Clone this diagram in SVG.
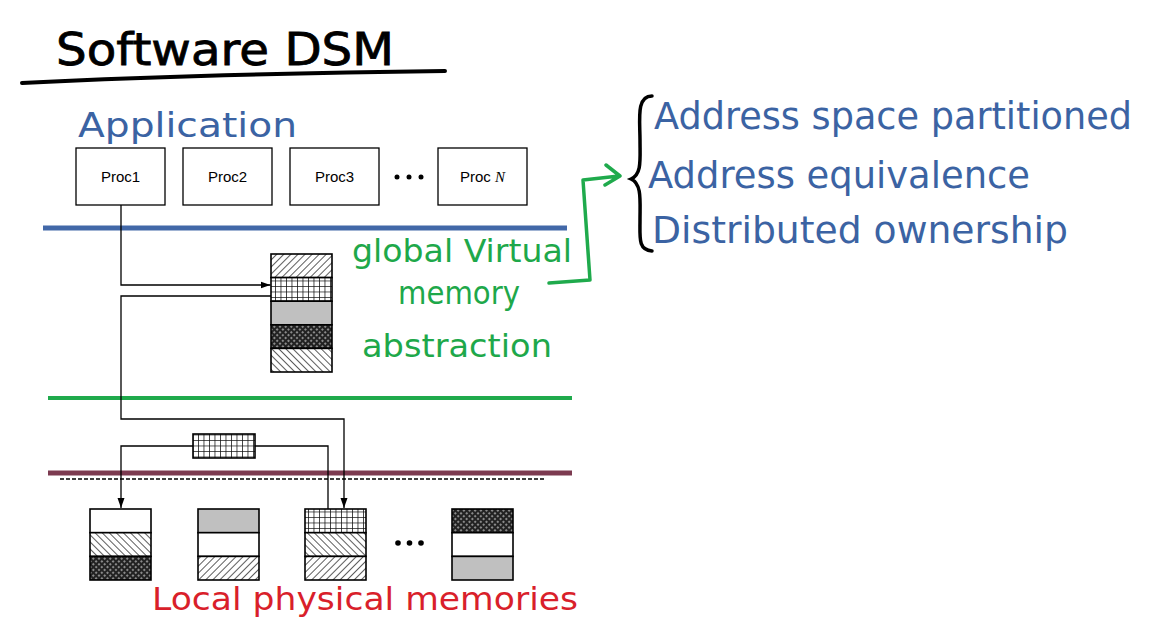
<svg xmlns="http://www.w3.org/2000/svg" width="1161" height="641" viewBox="0 0 1161 641">
<style>
.box{fill:#fff;stroke:#000;stroke-width:1.3}
.seg{stroke:#000;stroke-width:1.6}
.ptxt{font-family:"Liberation Sans",Arial,sans-serif;font-size:15px;fill:#000;text-anchor:middle}
.hand{font-family:"DejaVu Sans","Liberation Sans",sans-serif}
.blue{fill:#3b63a3}
.green{fill:#1ea84a}
.red{fill:#d91f2b}
.conn{fill:none;stroke:#000;stroke-width:1.3}
</style>
<defs>
<pattern id="hatchF" width="5" height="5" patternUnits="userSpaceOnUse" patternTransform="rotate(45)">
<rect width="5" height="5" fill="#fff"/><line x1="0" y1="0" x2="0" y2="5" stroke="#333" stroke-width="1.6"/>
</pattern>
<pattern id="hatchB" width="5" height="5" patternUnits="userSpaceOnUse" patternTransform="rotate(-45)">
<rect width="5" height="5" fill="#fff"/><line x1="0" y1="0" x2="0" y2="5" stroke="#333" stroke-width="1.6"/>
</pattern>
<pattern id="grid" width="5.5" height="5.5" patternUnits="userSpaceOnUse">
<rect width="5.5" height="5.5" fill="#fff"/><path d="M0 0H5.5M0 0V5.5" stroke="#111" stroke-width="1.5"/>
</pattern>
<pattern id="dark" width="4" height="4" patternUnits="userSpaceOnUse" patternTransform="rotate(45)">
<rect width="4" height="4" fill="#222"/><rect x="0" y="0" width="2" height="2" fill="#8a8a8a"/>
</pattern>
<marker id="ah" viewBox="0 0 10 10" refX="10" refY="5" markerWidth="10" markerHeight="10" markerUnits="userSpaceOnUse" orient="auto">
<path d="M0 1.5L10 5L0 8.5z" fill="#000"/>
</marker>
</defs>

<g id="title">
<text x="56" y="65" class="hand" font-size="44" fill="#000" stroke="#000" stroke-width="0.8" textLength="338" lengthAdjust="spacingAndGlyphs">Software DSM</text>
<path d="M22 83 Q200 74 445 71" fill="none" stroke="#000" stroke-width="4" stroke-linecap="round"/>
</g>

<g id="application-label">
<text x="78" y="137" class="hand blue" font-size="34" textLength="219" lengthAdjust="spacingAndGlyphs">Application</text>
</g>

<g id="proc1"><rect class="box" x="76" y="148" width="89" height="57"/><text class="ptxt" x="120.5" y="182">Proc1</text></g>
<g id="proc2"><rect class="box" x="183" y="148" width="89" height="57"/><text class="ptxt" x="227.5" y="182">Proc2</text></g>
<g id="proc3"><rect class="box" x="290" y="148" width="89" height="57"/><text class="ptxt" x="334.5" y="182">Proc3</text></g>
<g id="proc-dots" fill="#000"><circle cx="397" cy="177" r="2.5"/><circle cx="409" cy="177" r="2.5"/><circle cx="421" cy="177" r="2.5"/></g>
<g id="procN"><rect class="box" x="438" y="148" width="89" height="57"/><text class="ptxt" x="482.5" y="182">Proc <tspan font-family="'Liberation Serif',serif" font-style="italic">N</tspan></text></g>

<g id="layer-lines">
<line x1="43" y1="228" x2="567" y2="228" stroke="#4268a8" stroke-width="5"/>
<line x1="48" y1="398" x2="572" y2="398" stroke="#1faa4c" stroke-width="4"/>
<line x1="48" y1="473" x2="572" y2="473" stroke="#7c3a50" stroke-width="5"/>
<line x1="60" y1="479" x2="545" y2="479" stroke="#000" stroke-width="1.5" stroke-dasharray="4 2"/>
</g>

<g id="virtual-memory">
<rect class="seg" x="271" y="254" width="61" height="23.6" fill="url(#hatchF)"/>
<rect class="seg" x="271" y="277.6" width="61" height="23.6" fill="url(#grid)"/>
<rect class="seg" x="271" y="301.2" width="61" height="23.6" fill="#c0c0c0"/>
<rect class="seg" x="271" y="324.8" width="61" height="23.6" fill="url(#dark)"/>
<rect class="seg" x="271" y="348.4" width="61" height="23.6" fill="url(#hatchB)"/>
</g>

<g id="transfer-page">
<rect class="seg" x="193" y="434" width="62" height="24" fill="url(#grid)"/>
</g>

<g id="mem1">
<rect class="seg" x="90" y="509" width="61" height="23.7" fill="#fff"/>
<rect class="seg" x="90" y="532.7" width="61" height="23.7" fill="url(#hatchB)"/>
<rect class="seg" x="90" y="556.4" width="61" height="23.6" fill="url(#dark)"/>
</g>
<g id="mem2">
<rect class="seg" x="198" y="509" width="61" height="23.7" fill="#c0c0c0"/>
<rect class="seg" x="198" y="532.7" width="61" height="23.7" fill="#fff"/>
<rect class="seg" x="198" y="556.4" width="61" height="23.6" fill="url(#hatchF)"/>
</g>
<g id="mem3">
<rect class="seg" x="305" y="509" width="61" height="23.7" fill="url(#grid)"/>
<rect class="seg" x="305" y="532.7" width="61" height="23.7" fill="url(#hatchB)"/>
<rect class="seg" x="305" y="556.4" width="61" height="23.6" fill="url(#hatchF)"/>
</g>
<g id="mem-dots" fill="#000"><circle cx="398" cy="543" r="2.8"/><circle cx="409.5" cy="543" r="2.8"/><circle cx="421" cy="543" r="2.8"/></g>
<g id="mem4">
<rect class="seg" x="452" y="509" width="61" height="23.7" fill="url(#dark)"/>
<rect class="seg" x="452" y="532.7" width="61" height="23.7" fill="#fff"/>
<rect class="seg" x="452" y="556.4" width="61" height="23.6" fill="#c0c0c0"/>
</g>

<g id="connectors">
<path class="conn" d="M121 205V285H270.5" marker-end="url(#ah)"/>
<path class="conn" d="M271 296H121V419H344V508" marker-end="url(#ah)"/>
<path class="conn" d="M193 446H121V508" marker-end="url(#ah)"/>
<path class="conn" d="M255 446H328V509"/>
<path d="M549 283L590 280L583 180L619 176M606 165L620 176L605 185" fill="none" stroke="#1faa4c" stroke-width="3.5" stroke-linecap="round" stroke-linejoin="round"/>
<path d="M652 96C636 96 640 120 640 140C640 160 642 174 631 179C642 184 640 200 640 220C640 238 638 250 652 251" fill="none" stroke="#000" stroke-width="3.5" stroke-linecap="round"/>
</g>

<g id="green-label">
<text x="352" y="262" class="hand green" font-size="32" textLength="220" lengthAdjust="spacingAndGlyphs">global Virtual</text>
<text x="398" y="304" class="hand green" font-size="32" textLength="122" lengthAdjust="spacingAndGlyphs">memory</text>
<text x="362" y="357" class="hand green" font-size="32" textLength="190" lengthAdjust="spacingAndGlyphs">abstraction</text>
</g>

<g id="properties">
<text x="654" y="129" class="hand blue" font-size="37" textLength="478" lengthAdjust="spacingAndGlyphs">Address space partitioned</text>
<text x="648" y="188" class="hand blue" font-size="38" textLength="382" lengthAdjust="spacingAndGlyphs">Address equivalence</text>
<text x="652" y="243" class="hand blue" font-size="38" textLength="416" lengthAdjust="spacingAndGlyphs">Distributed ownership</text>
</g>

<g id="local-label">
<text x="152" y="610" class="hand red" font-size="32" textLength="426" lengthAdjust="spacingAndGlyphs">Local physical memories</text>
</g>
</svg>
